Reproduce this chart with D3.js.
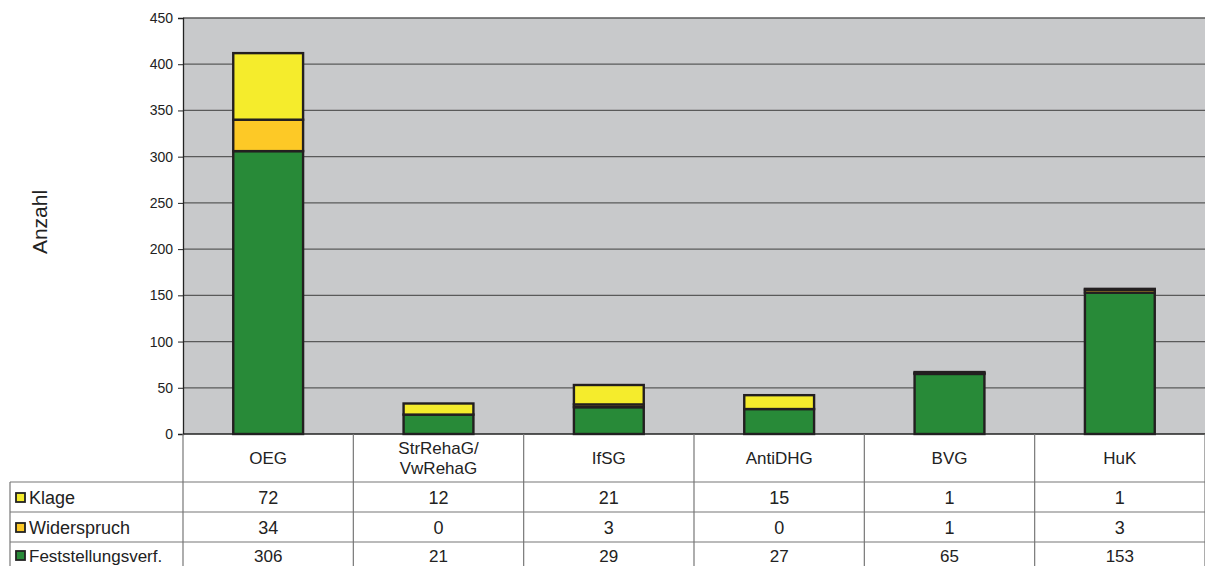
<!DOCTYPE html>
<html><head><meta charset="utf-8">
<script src="https://cdn.jsdelivr.net/npm/d3@7"></script>
<style>body{margin:0;background:#fff}svg{display:block;font-family:"Liberation Sans",Arial,sans-serif}</style>
</head><body><svg id="c" width="1205" height="566"></svg>
<script>
const categories = ["OEG", "StrRehaG/\nVwRehaG", "IfSG", "AntiDHG", "BVG", "HuK"];
const feststellung = [306, 21, 29, 27, 65, 153];
const widerspruch = [34, 0, 3, 0, 1, 3];
const klage = [72, 12, 21, 15, 1, 1];
const seriesNames = ["Feststellungsverf.", "Widerspruch", "Klage"];
const seriesColors = ["#288a38", "#fdc926", "#f5ec2c"];
const yTicks = [0, 50, 100, 150, 200, 250, 300, 350, 400, 450];

const svg = d3.select("#c");
const L = 183, R = 1205, T = 18, B = 434;
const x = d3.scaleBand().domain(d3.range(categories.length)).range([L, R]).paddingInner(0).paddingOuter(0);
const y = d3.scaleLinear().domain([0, 450]).range([B, T]);

svg.append("rect").attr("x", L).attr("y", T).attr("width", R - L).attr("height", B - T).attr("fill", "#c8c9cb");

svg.append("g").selectAll("line").data(yTicks.filter(d => d > 0)).join("line")
  .attr("x1", L).attr("x2", R).attr("y1", d => y(d)).attr("y2", d => y(d))
  .attr("stroke", "#5a5a5a").attr("stroke-width", 1.3);

const yAxis = svg.append("g").attr("transform", `translate(${L},0)`)
  .call(d3.axisLeft(y).tickValues(yTicks).tickSize(5).tickPadding(5));
yAxis.select(".domain").attr("stroke", "#222").attr("stroke-width", 1.3);
yAxis.selectAll(".tick line").attr("stroke", "#222");
yAxis.selectAll("text").attr("font-size", 14).attr("fill", "#222").attr("font-family", "Liberation Sans, Arial, sans-serif");

svg.append("text").attr("transform", "translate(47,222) rotate(-90)").attr("text-anchor", "middle")
  .attr("font-size", 21).attr("fill", "#222").text("Anzahl");

const rows = categories.map((c, i) => ({i, f: feststellung[i], w: widerspruch[i], k: klage[i]}));
const stack = d3.stack().keys(["f", "w", "k"])(rows);
const bw = x.bandwidth() * 0.41;
stack.forEach((layer, si) => {
  svg.append("g").selectAll("rect").data(layer).join("rect")
    .attr("x", d => x(d.data.i) + (x.bandwidth() - bw) / 2)
    .attr("y", d => y(d[1]))
    .attr("width", bw)
    .attr("height", d => Math.max(0, y(d[0]) - y(d[1])))
    .attr("fill", seriesColors[si])
    .attr("stroke", "#231f20").attr("stroke-width", 2.4);
});

svg.append("line").attr("x1", L).attr("x2", R).attr("y1", B).attr("y2", B).attr("stroke", "#222").attr("stroke-width", 1.3);

const rowTops = [482, 512, 542];
const tbl = svg.append("g");
const gridCol = "#777";
d3.range(categories.length + 1).forEach(i => {
  const xx = i < categories.length ? x(i) : R;
  tbl.append("line").attr("x1", xx).attr("x2", xx).attr("y1", B).attr("y2", 566).attr("stroke", gridCol).attr("stroke-width", 1.2);
});
tbl.append("line").attr("x1", 10).attr("x2", 10).attr("y1", rowTops[0]).attr("y2", 566).attr("stroke", gridCol).attr("stroke-width", 1.2);
rowTops.forEach(yy => tbl.append("line").attr("x1", 10).attr("x2", R).attr("y1", yy).attr("y2", yy).attr("stroke", gridCol).attr("stroke-width", 1.2));

categories.forEach((c, i) => {
  const parts = c.split("\n");
  const cx = x(i) + x.bandwidth() / 2;
  const t = tbl.append("text").attr("text-anchor", "middle").attr("font-size", 17).attr("fill", "#222");
  if (parts.length === 1) {
    t.append("tspan").attr("x", cx).attr("y", 464).text(parts[0]);
  } else {
    t.append("tspan").attr("x", cx).attr("y", 454).text(parts[0]);
    t.append("tspan").attr("x", cx).attr("y", 474).text(parts[1]);
  }
});

const tableRows = [
  {name: seriesNames[2], color: seriesColors[2], vals: klage},
  {name: seriesNames[1], color: seriesColors[1], vals: widerspruch},
  {name: seriesNames[0], color: seriesColors[0], vals: feststellung}
];
tableRows.forEach((r, ri) => {
  const cy = rowTops[ri] + (ri === 2 ? 14 : 16);
  tbl.append("rect").attr("x", 16).attr("y", cy - 5).attr("width", 9).attr("height", 9)
    .attr("fill", r.color).attr("stroke", "#222").attr("stroke-width", 1.8);
  tbl.append("text").attr("x", 29).attr("y", cy + 6).attr("font-size", ri === 2 ? 17 : 18).attr("fill", "#222").text(r.name);
  r.vals.forEach((v, i) => {
    tbl.append("text").attr("x", x(i) + x.bandwidth() / 2).attr("y", cy + 6).attr("text-anchor", "middle")
      .attr("font-size", ri === 2 ? 17 : 18).attr("fill", "#222").text(v);
  });
});
</script></body></html>
